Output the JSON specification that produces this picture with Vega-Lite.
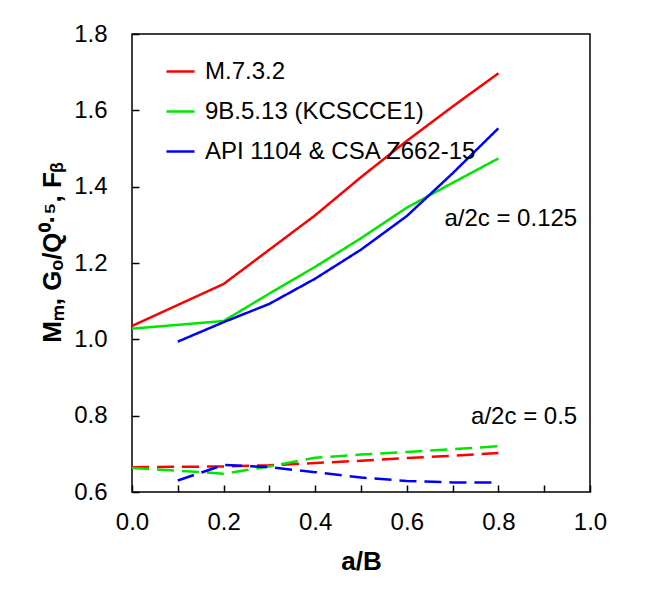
{
  "$schema": "https://vega.github.io/schema/vega-lite/v6.json",
  "autosize": {"type": "none"},
  "width": 458,
  "height": 458,
  "padding": {"left": 132, "top": 34, "right": 63, "bottom": 119},
  "background": "white",
  "config": {
    "font": "Liberation Sans",
    "view": {"stroke": "black", "strokeWidth": 1.5},
    "axis": {
      "domain": false,
      "labelFont": "Liberation Sans", "labelFontSize": 24, "labelColor": "black",
      "titleFont": "Liberation Sans", "titleFontSize": 26, "titleFontWeight": "bold", "titleColor": "black",
      "grid": false
    },
    "legend": {"labelFont": "Liberation Sans"}
  },
  "layer": [
    {
      "data": {"values": [
        {"x": 0.0, "y": 1.035, "code": "M.7.3.2", "ratio": "0.125"},
        {"x": 0.1, "y": 1.09, "code": "M.7.3.2", "ratio": "0.125"},
        {"x": 0.2, "y": 1.145, "code": "M.7.3.2", "ratio": "0.125"},
        {"x": 0.3, "y": 1.235, "code": "M.7.3.2", "ratio": "0.125"},
        {"x": 0.4, "y": 1.325, "code": "M.7.3.2", "ratio": "0.125"},
        {"x": 0.5, "y": 1.425, "code": "M.7.3.2", "ratio": "0.125"},
        {"x": 0.6, "y": 1.52, "code": "M.7.3.2", "ratio": "0.125"},
        {"x": 0.7, "y": 1.61, "code": "M.7.3.2", "ratio": "0.125"},
        {"x": 0.8, "y": 1.697, "code": "M.7.3.2", "ratio": "0.125"},
        {"x": 0.0, "y": 1.028, "code": "9B.5.13 (KCSCCE1)", "ratio": "0.125"},
        {"x": 0.1, "y": 1.038, "code": "9B.5.13 (KCSCCE1)", "ratio": "0.125"},
        {"x": 0.2, "y": 1.048, "code": "9B.5.13 (KCSCCE1)", "ratio": "0.125"},
        {"x": 0.3, "y": 1.12, "code": "9B.5.13 (KCSCCE1)", "ratio": "0.125"},
        {"x": 0.4, "y": 1.19, "code": "9B.5.13 (KCSCCE1)", "ratio": "0.125"},
        {"x": 0.5, "y": 1.265, "code": "9B.5.13 (KCSCCE1)", "ratio": "0.125"},
        {"x": 0.6, "y": 1.345, "code": "9B.5.13 (KCSCCE1)", "ratio": "0.125"},
        {"x": 0.7, "y": 1.41, "code": "9B.5.13 (KCSCCE1)", "ratio": "0.125"},
        {"x": 0.8, "y": 1.474, "code": "9B.5.13 (KCSCCE1)", "ratio": "0.125"},
        {"x": 0.1, "y": 0.994, "code": "API 1104 & CSA Z662-15", "ratio": "0.125"},
        {"x": 0.2, "y": 1.045, "code": "API 1104 & CSA Z662-15", "ratio": "0.125"},
        {"x": 0.3, "y": 1.093, "code": "API 1104 & CSA Z662-15", "ratio": "0.125"},
        {"x": 0.4, "y": 1.159, "code": "API 1104 & CSA Z662-15", "ratio": "0.125"},
        {"x": 0.5, "y": 1.235, "code": "API 1104 & CSA Z662-15", "ratio": "0.125"},
        {"x": 0.6, "y": 1.323, "code": "API 1104 & CSA Z662-15", "ratio": "0.125"},
        {"x": 0.7, "y": 1.435, "code": "API 1104 & CSA Z662-15", "ratio": "0.125"},
        {"x": 0.8, "y": 1.553, "code": "API 1104 & CSA Z662-15", "ratio": "0.125"},
        {"x": 0.0, "y": 0.665, "code": "M.7.3.2", "ratio": "0.5"},
        {"x": 0.1, "y": 0.666, "code": "M.7.3.2", "ratio": "0.5"},
        {"x": 0.2, "y": 0.667, "code": "M.7.3.2", "ratio": "0.5"},
        {"x": 0.3, "y": 0.67, "code": "M.7.3.2", "ratio": "0.5"},
        {"x": 0.4, "y": 0.676, "code": "M.7.3.2", "ratio": "0.5"},
        {"x": 0.5, "y": 0.682, "code": "M.7.3.2", "ratio": "0.5"},
        {"x": 0.6, "y": 0.689, "code": "M.7.3.2", "ratio": "0.5"},
        {"x": 0.7, "y": 0.695, "code": "M.7.3.2", "ratio": "0.5"},
        {"x": 0.8, "y": 0.702, "code": "M.7.3.2", "ratio": "0.5"},
        {"x": 0.0, "y": 0.663, "code": "9B.5.13 (KCSCCE1)", "ratio": "0.5"},
        {"x": 0.1, "y": 0.656, "code": "9B.5.13 (KCSCCE1)", "ratio": "0.5"},
        {"x": 0.2, "y": 0.648, "code": "9B.5.13 (KCSCCE1)", "ratio": "0.5"},
        {"x": 0.3, "y": 0.667, "code": "9B.5.13 (KCSCCE1)", "ratio": "0.5"},
        {"x": 0.4, "y": 0.69, "code": "9B.5.13 (KCSCCE1)", "ratio": "0.5"},
        {"x": 0.5, "y": 0.698, "code": "9B.5.13 (KCSCCE1)", "ratio": "0.5"},
        {"x": 0.6, "y": 0.705, "code": "9B.5.13 (KCSCCE1)", "ratio": "0.5"},
        {"x": 0.7, "y": 0.712, "code": "9B.5.13 (KCSCCE1)", "ratio": "0.5"},
        {"x": 0.8, "y": 0.72, "code": "9B.5.13 (KCSCCE1)", "ratio": "0.5"},
        {"x": 0.1, "y": 0.63, "code": "API 1104 & CSA Z662-15", "ratio": "0.5"},
        {"x": 0.2, "y": 0.671, "code": "API 1104 & CSA Z662-15", "ratio": "0.5"},
        {"x": 0.3, "y": 0.665, "code": "API 1104 & CSA Z662-15", "ratio": "0.5"},
        {"x": 0.4, "y": 0.652, "code": "API 1104 & CSA Z662-15", "ratio": "0.5"},
        {"x": 0.5, "y": 0.638, "code": "API 1104 & CSA Z662-15", "ratio": "0.5"},
        {"x": 0.6, "y": 0.629, "code": "API 1104 & CSA Z662-15", "ratio": "0.5"},
        {"x": 0.7, "y": 0.625, "code": "API 1104 & CSA Z662-15", "ratio": "0.5"},
        {"x": 0.8, "y": 0.625, "code": "API 1104 & CSA Z662-15", "ratio": "0.5"}
      ]},
      "mark": {"type": "line", "strokeWidth": 2.5, "clip": true},
      "encoding": {
        "x": {
          "field": "x", "type": "quantitative",
          "scale": {"domain": [0, 1], "nice": false, "zero": false},
          "axis": {
            "title": "a/B",
            "offset": -7,
            "ticks": true,
            "tickSize": 7,
            "tickColor": "#000000",
            "tickWidth": 1.5,
            "values": [0, 0.1, 0.2, 0.3, 0.4, 0.5, 0.6, 0.7, 0.8, 0.9, 1.0],
            "labelExpr": "round(datum.value * 10) % 2 == 0 ? format(datum.value, '.1f') : ''",
            "labelPadding": 18,
            "labelFlush": false,
            "labelOverlap": false,
            "titlePadding": 14
          }
        },
        "y": {
          "field": "y", "type": "quantitative",
          "scale": {"domain": [0.6, 1.8], "nice": false, "zero": false},
          "axis": {
            "title": "Mₘ, Gₒ/Q⁰·⁵, Fᵦ",
            "offset": -7,
            "ticks": true,
            "tickSize": 7,
            "tickColor": "#000000",
            "tickWidth": 1.5,
            "values": [0.6, 0.7, 0.8, 0.9, 1.0, 1.1, 1.2, 1.3, 1.4, 1.5, 1.6, 1.7, 1.8],
            "labelExpr": "round(datum.value * 10) % 2 == 0 ? format(datum.value, '.1f') : ''",
            "labelPadding": 25,
            "labelFlush": false,
            "labelOverlap": false,
            "titlePadding": 8,
            "titleY": 218
          }
        },
        "color": {
          "field": "code", "type": "nominal",
          "scale": {
            "domain": ["M.7.3.2", "9B.5.13 (KCSCCE1)", "API 1104 & CSA Z662-15"],
            "range": ["#ff0000", "#00e600", "#0000ff"]
          },
          "legend": {
            "title": null,
            "orient": "none",
            "legendX": 33,
            "legendY": 22,
            "symbolType": "stroke",
            "symbolSize": 784,
            "symbolStrokeWidth": 2.5,
            "labelFontSize": 24,
            "labelColor": "black",
            "labelOffset": 9,
            "rowPadding": 12,
            "labelLimit": 400
          }
        },
        "strokeDash": {
          "field": "ratio", "type": "nominal",
          "scale": {"domain": ["0.125", "0.5"], "range": [[1, 0], [17, 8]]},
          "legend": null
        }
      }
    },
    {
      "data": {"values": [
        {"x": 0.972, "y": 1.315, "label": "a/2c = 0.125"},
        {"x": 0.972, "y": 0.797, "label": "a/2c = 0.5"}
      ]},
      "mark": {"type": "text", "align": "right", "baseline": "middle", "fontSize": 24, "font": "Liberation Sans", "color": "black"},
      "encoding": {
        "x": {"field": "x", "type": "quantitative"},
        "y": {"field": "y", "type": "quantitative"},
        "text": {"field": "label"}
      }
    }
  ]
}
